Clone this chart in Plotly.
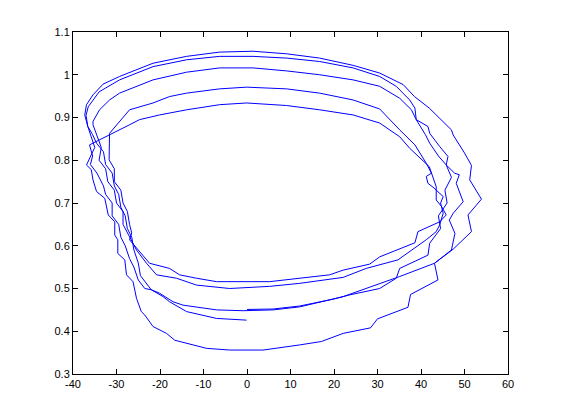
import plotly.graph_objects as go

# Trajectory, traced loop by loop (bottom -> right side -> top -> left side -> bottom)
seg1_x = [0, 6, 12.1, 19.8, 23.6, 30.5, 34.3, 35.1, 41.6, 42.0, 44.5, 44.0, 46.0, 45.5, 47.0, 45.8, 44.0, 42.0, 41.0, 38.9,
          37.8, 35.1, 30.5, 24.4, 16.7, 9.1, 1.4, -6.3, -13.9, -21.6, -29.3, -31.6, -33.9, -35.4, -35.4, -34.6, -33.5, -34.0, -32.5, -32.0,
          -30.5, -30.0, -28.5, -28.5, -27.5, -26.5, -25.4, -23.1, -20.8, -16.2, -11.6, -4.0]
seg1_y = [0.451, 0.452, 0.459, 0.475, 0.485, 0.500, 0.524, 0.547, 0.578, 0.606, 0.640, 0.670, 0.700, 0.730, 0.760, 0.789, 0.810, 0.840, 0.860, 0.895,
          0.918, 0.945, 0.973, 0.988, 1.000, 1.009, 1.016, 1.016, 1.006, 0.988, 0.957, 0.941, 0.918, 0.891, 0.883, 0.859, 0.830, 0.800, 0.780, 0.750,
          0.730, 0.700, 0.680, 0.650, 0.630, 0.610, 0.590, 0.559, 0.532, 0.524, 0.508, 0.500]

seg2_x = [5.2, 12.1, 22.1, 27.4, 34.7, 41.2, 43.5, 44.3, 45.1, 44.5, 45.1, 43.0, 41.6, 41.2, 42.4, 41.2, 38.6, 35.1, 32.4, 30.5,
          24.4, 16.7, 9.1, -0.1, -6.3, -13.9, -17.8, -21.6, -27.0, -31.6, -31.7, -30.5, -30.5, -29.0, -28.5, -27.5, -27.0, -26.5, -27.0, -24.7,
          -22.4, -17.8, -15.5, -11.6, -7.0]
seg2_y = [0.505, 0.512, 0.526, 0.547, 0.567, 0.614, 0.633, 0.649, 0.676, 0.700, 0.715, 0.735, 0.746, 0.762, 0.770, 0.793, 0.836, 0.871, 0.900, 0.920,
          0.941, 0.957, 0.967, 0.971, 0.967, 0.957, 0.949, 0.934, 0.918, 0.863, 0.801, 0.780, 0.750, 0.730, 0.700, 0.680, 0.650, 0.630, 0.614, 0.586,
          0.559, 0.547, 0.532, 0.524, 0.516]

seg3_x = [5.2, 12.1, 19.0, 22.1, 28.2, 30.5, 34.3, 38.6, 39.3, 44.3, 45.8, 44.7, 43.5, 43.5, 41.9, 37.4, 35.1, 30.5, 24.4, 16.7,
          9.1, -0.1, -6.3, -13.9, -20.1, -24.7, -27.0, -31.6, -36.2, -35.5, -36.0, -34.5, -33.0, -32.5, -31.0, -31.0, -29.5, -29.0, -28.0, -27.0,
          -26.0, -25.0, -23.5, -22.0, -20.1, -17.0, -14.7, -7.0, -0.9]
seg3_y = [0.516, 0.524, 0.532, 0.543, 0.557, 0.574, 0.590, 0.607, 0.633, 0.656, 0.672, 0.692, 0.707, 0.738, 0.785, 0.828, 0.855, 0.887, 0.906, 0.918,
          0.928, 0.934, 0.930, 0.918, 0.906, 0.895, 0.883, 0.859, 0.836, 0.810, 0.790, 0.770, 0.740, 0.720, 0.700, 0.670, 0.650, 0.620, 0.600, 0.570,
          0.550, 0.520, 0.500, 0.497, 0.489, 0.469, 0.461, 0.450, 0.448]

seg4_x = [6.0, 12.1, 22.1, 28.2, 35.1, 43.1, 47.0, 47.8, 46.5, 47.4, 49.7, 48.1, 48.8, 47.7, 45.8, 46.2, 44.3, 42.0, 41.6, 38.9,
          38.6, 37.4, 34.3, 30.5, 24.4, 16.7, 9.1, 1.4, -6.3, -13.9, -21.6, -29.3, -34.0, -36.5, -37.0, -36.6, -35.8, -35.0, -36.9, -35.8,
          -35.4, -34.6, -32.7, -31.9, -30.4, -30.4, -29.7, -29.7, -28.1, -27.7, -26.2, -25.8, -25.4, -24.3, -23.5, -21.6, -18.5, -16.6, -9.3, -4.0]
seg4_y = [0.450, 0.457, 0.481, 0.503, 0.528, 0.559, 0.590, 0.629, 0.660, 0.676, 0.703, 0.746, 0.766, 0.770, 0.789, 0.809, 0.832, 0.863, 0.879, 0.895,
          0.922, 0.941, 0.973, 0.996, 1.016, 1.031, 1.039, 1.043, 1.043, 1.035, 1.019, 0.988, 0.960, 0.925, 0.905, 0.879, 0.855, 0.830, 0.789, 0.778,
          0.754, 0.727, 0.711, 0.672, 0.656, 0.625, 0.614, 0.582, 0.567, 0.532, 0.516, 0.493, 0.477, 0.446, 0.438, 0.411, 0.395, 0.379, 0.360, 0.356]

seg5_x = [3.7, 12.1, 17.1, 22.1, 28.4, 30.0, 37.0, 37.6, 43.9, 43.1, 47.4, 51.6, 50.8, 53.9, 51.2, 51.6, 50.0, 47.4, 47.0, 41.9,
          38.5, 35.9, 30.5, 24.4, 16.7, 9.1, 1.4, -6.3, -13.9, -21.6, -29.3, -33.1, -35.4, -36.9, -37.3, -36.6, -35.5, -34.6, -33.0, -32.5,
          -31.0, -30.5, -29.5, -29.0, -28.0, -27.5, -26.5, -26.0, -25.0, -24.5, -23.0, -22.0, -19.3, -17.8, -13.9, -7.0, -0.1]
seg5_y = [0.356, 0.368, 0.376, 0.395, 0.408, 0.429, 0.456, 0.486, 0.520, 0.559, 0.592, 0.633, 0.672, 0.709, 0.754, 0.788, 0.817, 0.859, 0.871, 0.922,
          0.949, 0.977, 1.004, 1.022, 1.039, 1.049, 1.055, 1.053, 1.043, 1.027, 0.996, 0.978, 0.953, 0.930, 0.906, 0.879, 0.860, 0.840, 0.820, 0.790,
          0.770, 0.740, 0.720, 0.690, 0.670, 0.640, 0.620, 0.590, 0.560, 0.530, 0.510, 0.497, 0.481, 0.469, 0.446, 0.430, 0.426]

x_ticks = [-40, -30, -20, -10, 0, 10, 20, 30, 40, 50, 60]
y_ticks = [0.3, 0.4, 0.5, 0.6, 0.7, 0.8, 0.9, 1.0, 1.1]
y_tick_labels = ["0.3", "0.4", "0.5", "0.6", "0.7", "0.8", "0.9", "1", "1.1"]

xs, ys = [], []
for sx, sy in [(seg1_x, seg1_y), (seg2_x, seg2_y), (seg3_x, seg3_y), (seg4_x, seg4_y), (seg5_x, seg5_y)]:
    assert len(sx) == len(sy)
    xs += sx
    ys += sy

fig = go.Figure()
fig.add_trace(go.Scatter(x=xs, y=ys, mode="lines",
                         line=dict(color="rgb(0,0,255)", width=1), showlegend=False,
                         hoverinfo="skip"))

axis_common = dict(showgrid=False, zeroline=False, showline=True, linecolor="black", linewidth=1,
                   mirror="ticks", ticks="inside", ticklen=5, tickcolor="black", tickwidth=1,
                   tickfont=dict(family="Liberation Sans, Arial, sans-serif", size=11, color="black"))

fig.update_xaxes(range=[-40, 60], tickvals=x_ticks, ticktext=[str(v) for v in x_ticks], **axis_common)
fig.update_yaxes(range=[0.3, 1.1], tickvals=y_ticks, ticktext=y_tick_labels, **axis_common)

# the page body adds an 8px offset, so the margins are shifted to keep the axes where the reference has them
fig.update_layout(width=561, height=420, margin=dict(l=65, r=61, t=24, b=54),
                  paper_bgcolor="white", plot_bgcolor="white")

fig.write_html("out.html")
